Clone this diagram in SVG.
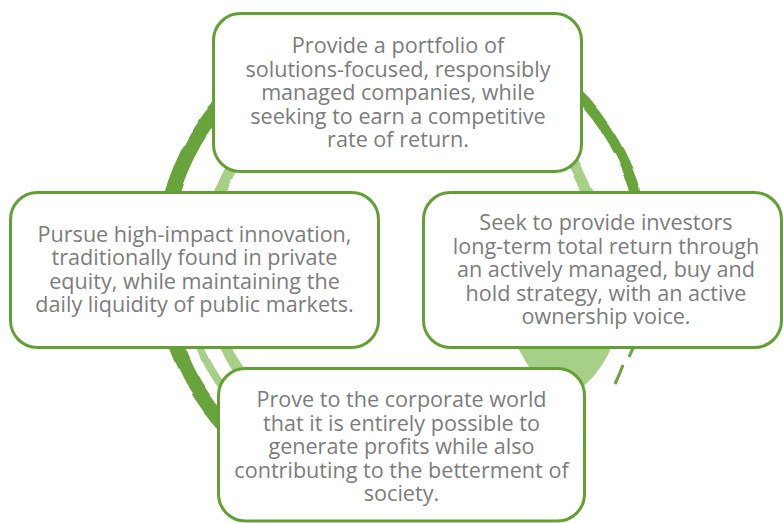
<svg xmlns="http://www.w3.org/2000/svg" width="783" height="523" viewBox="0 0 783 523">
  <style>
    .box { fill: #ffffff; stroke: #62a034; stroke-width: 3; }
    .txt { font-family: "Open Sans", "Liberation Sans", sans-serif; font-size: 21.6px; fill: #7c7c7c; text-anchor: middle; }
    .dark { fill: none; stroke: #67a43b; }
    .light { fill: none; stroke: #a6cf88; }
  </style>
  <defs>
    <filter id="brush" filterUnits="userSpaceOnUse" x="0" y="0" width="783" height="523">
      <feTurbulence type="fractalNoise" baseFrequency="0.035" numOctaves="1" seed="7" result="n"/>
      <feDisplacementMap in="SourceGraphic" in2="n" scale="5" xChannelSelector="R" yChannelSelector="G"/>
    </filter>
  </defs>
  <rect width="783" height="523" fill="#ffffff"/>
  <g id="ring">
    <!-- light inner ring -->
    <circle class="light" cx="404" cy="263" r="197" stroke-width="11" filter="url(#brush)"/>
    <path d="M 515 343 L 613 343 Q 604 368 584 386 L 540 386 Z" fill="#a6cf88"/>
    <path class="light" d="M 199 345 A 220 220 0 0 0 222 385" stroke-width="8" filter="url(#brush)"/>
    <!-- dark outer brush ring -->
    <path class="dark" d="M 581 428 A 242 242 0 0 1 404 505 A 242 242 0 0 1 162 263 A 242 242 0 0 1 525 53" stroke-width="15" filter="url(#brush)"/>
    <path class="dark" d="M 525 53 A 242 242 0 0 1 646 263" stroke-width="10" filter="url(#brush)"/>
    <path class="dark" d="M 203 128 A 240 240 0 0 0 176 175" stroke-width="8" filter="url(#brush)"/>
    <path class="dark" d="M 633 348 A 242 242 0 0 1 629 357" stroke-width="3"/>
    <path class="dark" d="M 623 365 A 242 242 0 0 1 615 384" stroke-width="3"/>
    <path d="M 602 135 l 3 5 M 612 158 l 4 6 M 620 178 l 3 5 M 628 200 l 2 5" stroke="#ffffff" stroke-width="2" fill="none"/>
  </g>
  <g id="connectors"></g>
  <g id="node-top">
    <rect class="box" x="213.5" y="13.5" width="368" height="158" rx="27"/>
    <text class="txt" x="398" y="53">Provide a portfolio of</text>
    <text class="txt" x="398" y="76.5">solutions-focused, responsibly</text>
    <text class="txt" x="398" y="100">managed companies, while</text>
    <text class="txt" x="398" y="123.5">seeking to earn a competitive</text>
    <text class="txt" x="398" y="147">rate of return.</text>
  </g>
  <g id="node-left">
    <rect class="box" x="10.5" y="192.5" width="368" height="155" rx="27"/>
    <text class="txt" x="194.5" y="241.5">Pursue high-impact innovation,</text>
    <text class="txt" x="194.5" y="265">traditionally found in private</text>
    <text class="txt" x="194.5" y="288.5">equity, while maintaining the</text>
    <text class="txt" x="194.5" y="312">daily liquidity of public markets.</text>
  </g>
  <g id="node-right">
    <rect class="box" x="423.5" y="192.5" width="358" height="155" rx="27"/>
    <text class="txt" x="606" y="230">Seek to provide investors</text>
    <text class="txt" x="606" y="253.5">long-term total return through</text>
    <text class="txt" x="606" y="277">an actively managed, buy and</text>
    <text class="txt" x="606" y="300.5">hold strategy, with an active</text>
    <text class="txt" x="606" y="324">ownership voice.</text>
  </g>
  <g id="node-bottom">
    <rect class="box" x="218.5" y="368.5" width="366" height="152.5" rx="27"/>
    <text class="txt" x="401.5" y="407">Prove to the corporate world</text>
    <text class="txt" x="401.5" y="430.5">that it is entirely possible to</text>
    <text class="txt" x="401.5" y="454">generate profits while also</text>
    <text class="txt" x="401.5" y="477.5">contributing to the betterment of</text>
    <text class="txt" x="401.5" y="501">society.</text>
  </g>
</svg>
